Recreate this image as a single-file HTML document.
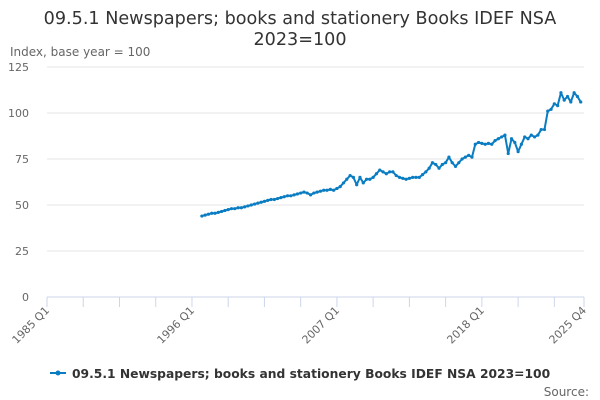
<!DOCTYPE html>
<html><head><meta charset="utf-8"><style>
body{margin:0;background:#fff;font-family:"Liberation Sans","DejaVu Sans",sans-serif}
svg{display:block}
</style></head><body>
<svg id="chart" width="600" height="400" xmlns="http://www.w3.org/2000/svg" font-family="DejaVu Sans, Liberation Sans, sans-serif">
<text x="300" y="24" text-anchor="middle" font-size="17.6" fill="#333">09.5.1 Newspapers; books and stationery Books IDEF NSA</text>
<text x="300" y="45" text-anchor="middle" font-size="17.6" fill="#333">2023=100</text>
<text x="10" y="56" font-size="12" fill="#666">Index, base year = 100</text>
<g id="grid"></g><g id="xaxis"></g><g id="series"></g>
<g>
<line x1="50" y1="373" x2="66" y2="373" stroke="#0a7dc2" stroke-width="2"/>
<circle cx="58" cy="373" r="2.5" fill="#0a7dc2"/>
<text x="72" y="378" font-size="12.3" font-weight="bold" fill="#333">09.5.1 Newspapers; books and stationery Books IDEF NSA 2023=100</text>
</g>
<text x="589" y="396" text-anchor="end" font-size="12" fill="#666">Source:</text>
</svg>
<script>
const startQuarter = 47; // 1996 Q4, index from 1985 Q1
const values = [44,44.5,45,45.5,45.5,46,46.5,47,47.5,48,48,48.5,48.5,49,49.5,50,50.5,51,51.5,52,52.5,53,53,53.5,54,54.5,55,55,55.5,56,56.5,57,56.5,55.5,56.5,57,57.5,58,58,58.5,58,59,60,62,64,66,65,61,65,62,64,64,65,67,69,68,67,68,68,66,65,64.5,64,64.5,65,65,65,66.5,68,70,73,72,70,72,73,76,73,71,73,75,76,77,76,83,84,83.5,83,83.5,83,85,86,87,88,78,86,84,79,83,87,86,88,87,88,91,91,101,102,105,104,111,107,109,106,111,109,106];
const yTicks = [0,25,50,75,100,125];
const xLabels = ["1985 Q1","1996 Q1","2007 Q1","2018 Q1","2025 Q4"];
const xLabelQuarters = [0,44,88,132,163];
const ns="http://www.w3.org/2000/svg";
const X0=47,X1=584,Y0=297,Y1=67,QMAX=163,VMAX=125;
const xs=q=>X0+(X1-X0)*q/QMAX;
const ys=v=>Y0-(Y0-Y1)*v/VMAX;
function mk(t,a,p){const e=document.createElementNS(ns,t);for(const k in a)e.setAttribute(k,a[k]);p.appendChild(e);return e;}
const grid=document.getElementById('grid');
yTicks.forEach(v=>{
  const l=mk('line',{x1:X0,x2:X1,y1:ys(v),y2:ys(v),stroke:v===0?'#ccd6eb':'#e6e6e6','stroke-width':1},grid);
  
  
  const t=mk('text',{x:29,y:ys(v)+4,'text-anchor':'end','font-size':11,fill:'#666'},grid);
  t.textContent=v;
  
  
});
const xa=document.getElementById('xaxis');
for(let q=0;q<=QMAX;q+=11){
  const tk=mk('line',{x1:xs(q),x2:xs(q),y1:Y0,y2:Y0+10,stroke:'#ccd6eb'},xa);
  
  
}
const et=mk('line',{x1:xs(QMAX),x2:xs(QMAX),y1:Y0,y2:Y0+10,stroke:'#ccd6eb'},xa);


xLabels.forEach((s,i)=>{
  const x=xs(xLabelQuarters[i])+3,y=Y0+14;
  const t=mk('text',{x:x,y:y,'text-anchor':'end','font-size':11,fill:'#666',transform:`rotate(-45 ${x} ${y})`},xa);
  t.textContent=s;
  
  
});
const sg=document.getElementById('series');
const pts=values.map((v,i)=>[xs(startQuarter+i),ys(v)]);
const pl=mk('polyline',{points:pts.map(p=>p.join(',')).join(' '),fill:'none',stroke:'#0a7dc2','stroke-width':2,'stroke-linejoin':'round'},sg);


pts.forEach(p=>{
  const c=mk('circle',{cx:p[0],cy:p[1],r:1.6,fill:'#0a7dc2'},sg);
  
  
});
</script>
</body></html>
